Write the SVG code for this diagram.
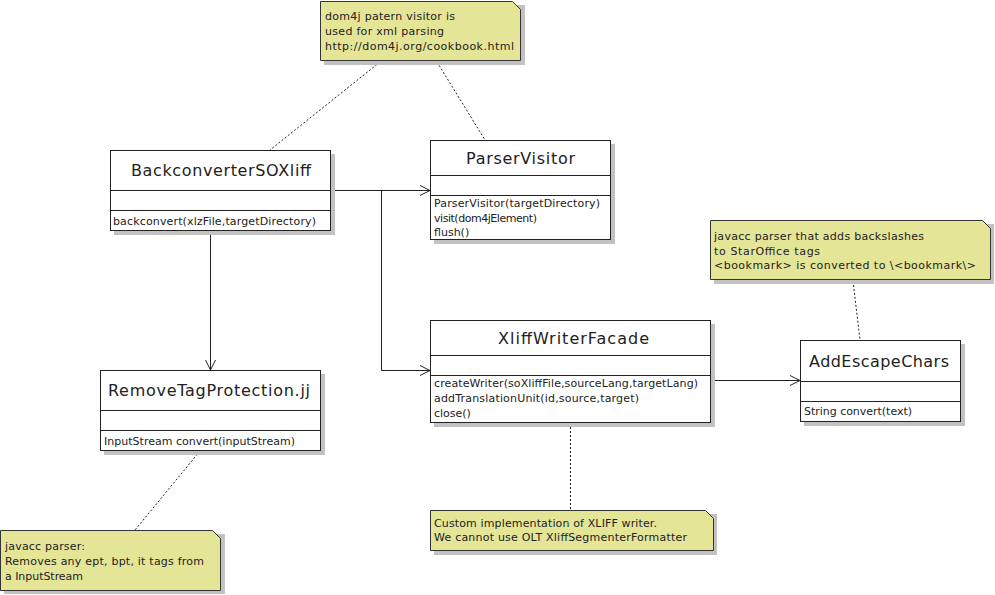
<svg xmlns="http://www.w3.org/2000/svg" width="995" height="595" viewBox="0 0 995 595">
<defs>
<style>
.shadow{fill:#c2c2c2;}
.box{fill:#ffffff;stroke:#222;stroke-width:1;}
.note{fill:#e5e598;stroke:#333;stroke-width:1;}
.div{stroke:#222;stroke-width:1;}
.title{font-family:"DejaVu Sans","Liberation Sans",sans-serif;font-size:16px;fill:#222;text-anchor:start;}
.t{font-family:"DejaVu Sans","Liberation Sans",sans-serif;font-size:11px;fill:#222;}
.edge{fill:none;stroke:#222;stroke-width:1;}
.dot{fill:none;stroke:#222;stroke-width:1;stroke-dasharray:2,2;}
</style>
<marker id="open" markerUnits="userSpaceOnUse" markerWidth="12" markerHeight="12" refX="10" refY="5" orient="auto" overflow="visible">
<path d="M0,0 L10,5 L0,10" fill="none" stroke="#222" stroke-width="1"/>
</marker>
</defs>
<rect width="995" height="595" fill="#ffffff"/>

<g id="connectors">
<path class="edge" d="M331,190.5 H430" marker-end="url(#open)"/>
<path class="edge" d="M381.5,190.5 V370.5 H430" marker-end="url(#open)"/>
<path class="edge" d="M210.5,231 V370" marker-end="url(#open)"/>
<path class="edge" d="M711,380.5 H800" marker-end="url(#open)"/>
<path class="dot" d="M380,62 L270,150"/>
<path class="dot" d="M437,62 L485,140"/>
<path class="dot" d="M853,281 L860,340"/>
<path class="dot" d="M570.5,423 V510"/>
<path class="dot" d="M200,451 L135,530"/>
</g>

<g id="BackconverterSOXliff">
<rect class="shadow" x="114" y="154" width="221" height="81"/>
<rect class="box" x="110.5" y="150.5" width="220" height="80"/>
<line class="div" x1="110.5" y1="190.5" x2="330.5" y2="190.5"/>
<line class="div" x1="110.5" y1="210.5" x2="330.5" y2="210.5"/>
<text class="title" x="131" y="176" textLength="180">BackconverterSOXliff</text>
<text class="t" x="113" y="225" textLength="203">backconvert(xlzFile,targetDirectory)</text>
</g>

<g id="ParserVisitor">
<rect class="shadow" x="434" y="144" width="181" height="100"/>
<rect class="box" x="430.5" y="140.5" width="180" height="99"/>
<line class="div" x1="430.5" y1="175.5" x2="610.5" y2="175.5"/>
<line class="div" x1="430.5" y1="195.5" x2="610.5" y2="195.5"/>
<text class="title" x="466" y="164" textLength="109">ParserVisitor</text>
<text class="t" x="434" y="207" textLength="166">ParserVisitor(targetDirectory)</text>
<text class="t" x="434" y="221.5" textLength="103">visit(dom4jElement)</text>
<text class="t" x="434" y="236">flush()</text>
</g>

<g id="XliffWriterFacade">
<rect class="shadow" x="434" y="324" width="281" height="103"/>
<rect class="box" x="430.5" y="320.5" width="280" height="102"/>
<line class="div" x1="430.5" y1="355.5" x2="710.5" y2="355.5"/>
<line class="div" x1="430.5" y1="375.5" x2="710.5" y2="375.5"/>
<text class="title" x="498" y="344" textLength="151">XliffWriterFacade</text>
<text class="t" x="434" y="387" textLength="264">createWriter(soXliffFile,sourceLang,targetLang)</text>
<text class="t" x="434" y="402" textLength="205">addTranslationUnit(id,source,target)</text>
<text class="t" x="434" y="417">close()</text>
</g>

<g id="AddEscapeChars">
<rect class="shadow" x="804" y="344" width="161" height="82"/>
<rect class="box" x="800.5" y="340.5" width="160" height="81"/>
<line class="div" x1="800.5" y1="381.5" x2="960.5" y2="381.5"/>
<line class="div" x1="800.5" y1="401.5" x2="960.5" y2="401.5"/>
<text class="title" x="809" y="367" textLength="140">AddEscapeChars</text>
<text class="t" x="804" y="415" textLength="108">String convert(text)</text>
</g>

<g id="RemoveTagProtection">
<rect class="shadow" x="104" y="374" width="221" height="81"/>
<rect class="box" x="100.5" y="370.5" width="220" height="80"/>
<line class="div" x1="100.5" y1="410.5" x2="320.5" y2="410.5"/>
<line class="div" x1="100.5" y1="430.5" x2="320.5" y2="430.5"/>
<text class="title" x="108" y="396" textLength="202">RemoveTagProtection.jj</text>
<text class="t" x="104" y="445" textLength="191">InputStream convert(inputStream)</text>
</g>

<g id="note-dom4j">
<polygon class="shadow" points="324,5 525,5 525,65 324,65"/>
<polygon class="note" points="320.5,1.5 512.5,1.5 520.5,9.5 520.5,60.5 320.5,60.5"/>
<text class="t" x="325" y="19.5" textLength="130">dom4j patern visitor is</text>
<text class="t" x="325" y="34.5" textLength="119">used for xml parsing</text>
<text class="t" x="325" y="49.5" textLength="189">http://dom4j.org/cookbook.html</text>
</g>

<g id="note-removetag">
<polygon class="shadow" points="4,534 225,534 225,594 4,594"/>
<polygon class="note" points="0.5,530.5 212.5,530.5 220.5,538.5 220.5,590.5 0.5,590.5"/>
<text class="t" x="5" y="550" textLength="80">javacc parser:</text>
<text class="t" x="5" y="565" textLength="199">Removes any ept, bpt, it tags from</text>
<text class="t" x="5" y="579.5" textLength="78">a InputStream</text>
</g>

<g id="note-escape">
<polygon class="shadow" points="714,224 994,224 994,284 714,284"/>
<polygon class="note" points="710.5,220.5 982.5,220.5 990.5,228.5 990.5,279.5 710.5,279.5"/>
<text class="t" x="714" y="240" textLength="210">javacc parser that adds backslashes</text>
<text class="t" x="714" y="254.5" textLength="106">to StarOffice tags</text>
<text class="t" x="714" y="269" textLength="262">&lt;bookmark&gt; is converted to \&lt;bookmark\&gt;</text>
</g>

<g id="note-xliff">
<polygon class="shadow" points="434,514 717,514 717,555 434,555"/>
<polygon class="note" points="430.5,510.5 705.5,510.5 713.5,518.5 713.5,550.5 430.5,550.5"/>
<text class="t" x="434" y="527" textLength="223">Custom implementation of XLIFF writer.</text>
<text class="t" x="434" y="541" textLength="253">We cannot use OLT XliffSegmenterFormatter</text>
</g>
</svg>
